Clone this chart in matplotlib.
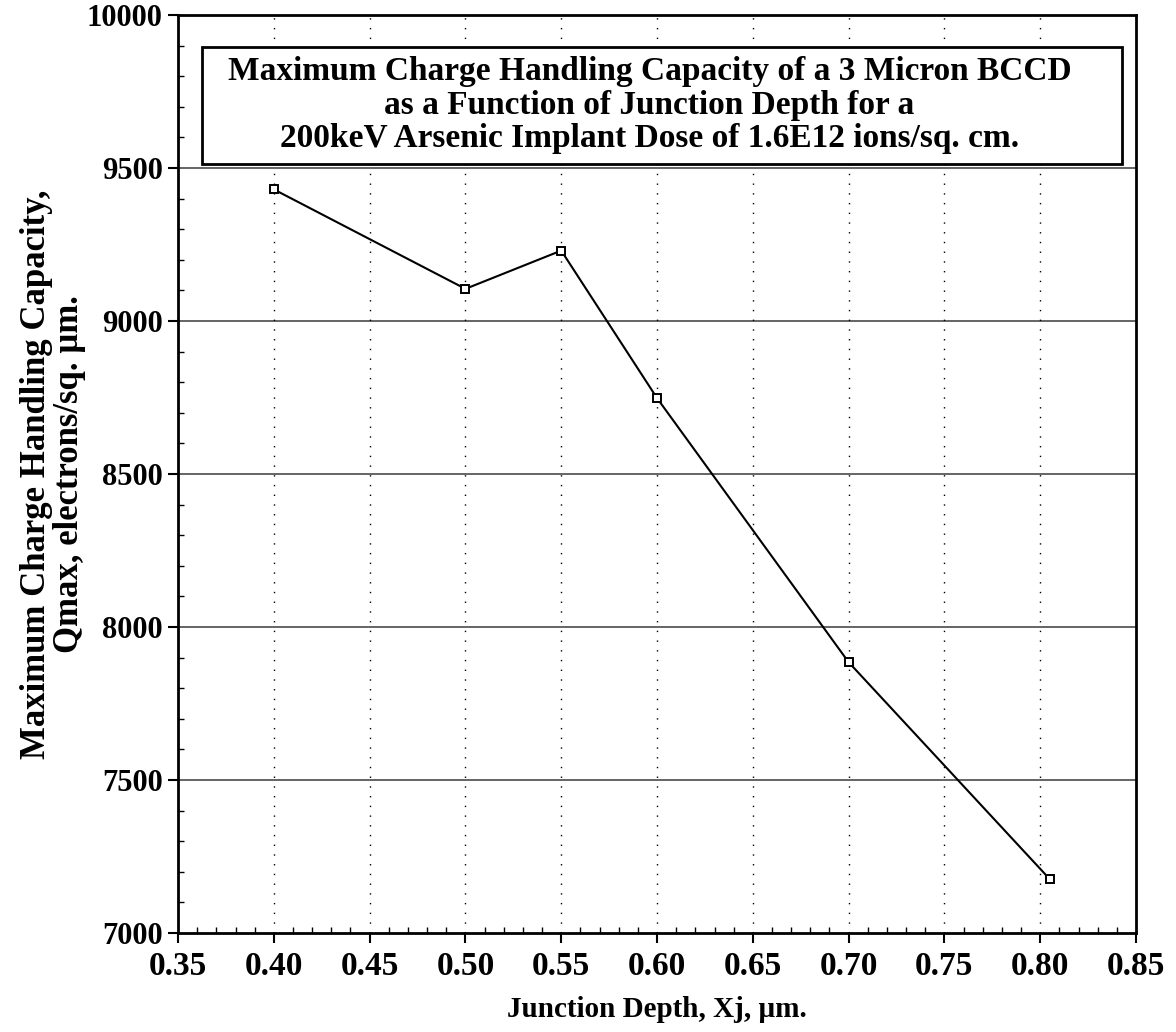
import matplotlib
matplotlib.use('Agg')
import matplotlib.pyplot as plt
from matplotlib.patches import Rectangle
from matplotlib.ticker import MultipleLocator

# junction depth (um) vs max charge handling capacity
junction_depth = [0.40, 0.50, 0.55, 0.60, 0.70, 0.805]
qmax = [9430, 9105, 9230, 8748, 7885, 7176]

x_ticks = [0.35, 0.40, 0.45, 0.50, 0.55, 0.60, 0.65, 0.70, 0.75, 0.80, 0.85]
y_ticks = [7000, 7500, 8000, 8500, 9000, 9500, 10000]

title_lines = [
    'Maximum Charge Handling Capacity of a 3 Micron BCCD',
    'as a Function of Junction Depth for a',
    '200keV Arsenic Implant Dose of 1.6E12 ions/sq. cm.',
]

plt.rcParams['font.family'] = ['Liberation Serif', 'DejaVu Serif']
plt.rcParams['font.weight'] = 'bold'

fig = plt.figure(figsize=(11.76, 10.32), dpi=100)
ax = fig.add_axes([0.1514, 0.0959, 0.8146, 0.8896])

ax.plot(junction_depth, qmax, color='black', lw=1.5, marker='s', ms=6,
        mfc='white', mec='black', mew=1.4, zorder=5)

ax.set_xlim(0.35, 0.85)
ax.set_ylim(7000, 10000)
ax.set_xticks(x_ticks)
ax.set_xticklabels([f'{t:.2f}' for t in x_ticks])
ax.set_yticks(y_ticks)
ax.xaxis.set_minor_locator(MultipleLocator(0.01))
ax.yaxis.set_minor_locator(MultipleLocator(100))

# horizontal grid solid, vertical grid sparse dots (like the scanned original)
for yv in y_ticks[1:-1]:
    ax.axhline(yv, color='#4a4a4a', lw=1.2, zorder=1)
for xv in x_ticks[1:-1]:
    ax.axvline(xv, color='black', lw=1.0, ls=(0, (1, 6)), zorder=1)

ax.tick_params(axis='y', which='major', direction='out', length=7, width=1.5,
               labelsize=22, pad=4)
ax.tick_params(axis='y', which='minor', direction='in', length=4, width=1)
ax.tick_params(axis='x', which='major', direction='out', length=7, width=1.5,
               labelsize=24, pad=6)
ax.tick_params(axis='x', which='minor', direction='in', length=4, width=1)
for lab in ax.get_xticklabels() + ax.get_yticklabels():
    lab.set_fontweight('bold')

for sp in ax.spines.values():
    sp.set_linewidth(2)

ax.set_xlabel('Junction Depth, Xj, \u00b5m.', fontsize=21, fontweight='bold',
              labelpad=10)
ax.set_ylabel('Maximum Charge Handling Capacity,\nQmax, electrons/sq. \u00b5m.',
              fontsize=25, fontweight='bold', labelpad=1, linespacing=1.0)

# title box inside the plot
ax.add_patch(Rectangle((0.025, 0.838), 0.96, 0.127, transform=ax.transAxes,
                       facecolor='white', edgecolor='black', lw=2, zorder=6))
for i, line in enumerate(title_lines):
    ax.text(0.492, 0.938 - i * 0.0365, line, transform=ax.transAxes,
            ha='center', va='center', fontsize=24, fontweight='bold', zorder=7)

fig.savefig('out.png', dpi=100)
